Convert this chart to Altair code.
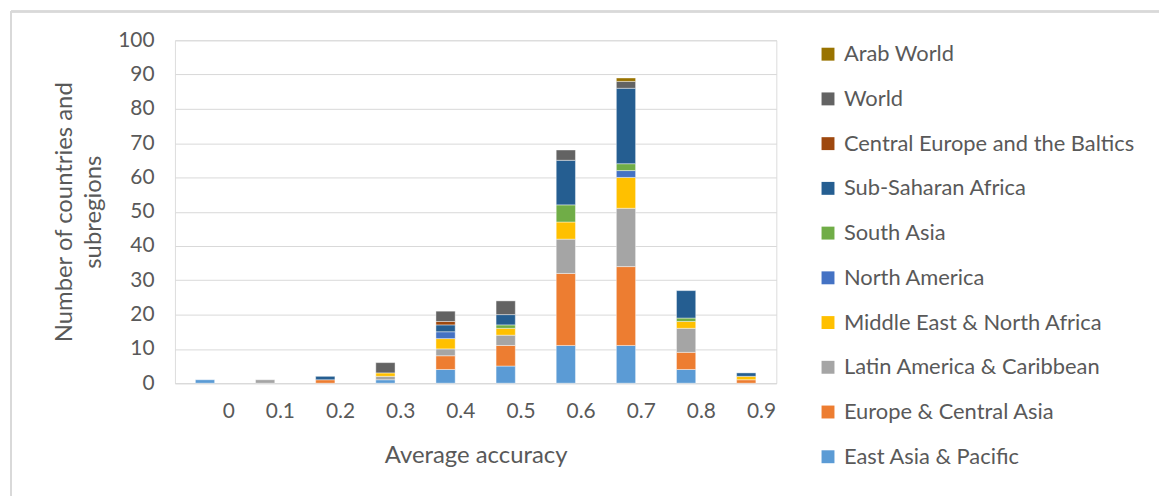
import altair as alt
import pandas as pd

# Accuracy bins (category labels on the x axis)
bins = ["0", "0.1", "0.2", "0.3", "0.4", "0.5", "0.6", "0.7", "0.8", "0.9"]

# Regions, bottom of the stack first
regions = [
    "East Asia & Pacific",
    "Europe & Central Asia",
    "Latin America & Caribbean",
    "Middle East & North Africa",
    "North America",
    "South Asia",
    "Sub-Saharan Africa",
    "Central Europe and the Baltics",
    "World",
    "Arab World",
]

colors = [
    "#5B9BD5", "#ED7D31", "#A5A5A5", "#FFC000", "#4472C4",
    "#70AD47", "#255E91", "#9E480E", "#636363", "#997300",
]

# Number of countries / subregions per bin, one list per region
east_asia_pacific = [1, 0, 0, 1, 4, 5, 11, 11, 4, 0]
europe_central_asia = [0, 0, 1, 0, 4, 6, 21, 23, 5, 1]
latin_america_caribbean = [0, 1, 0, 1, 2, 3, 10, 17, 7, 0]
middle_east_north_africa = [0, 0, 0, 1, 3, 2, 5, 9, 2, 1]
north_america = [0, 0, 0, 0, 2, 0, 0, 2, 0, 0]
south_asia = [0, 0, 0, 0, 0, 1, 5, 2, 1, 0]
sub_saharan_africa = [0, 0, 1, 0, 2, 3, 13, 22, 8, 1]
central_europe_baltics = [0, 0, 0, 0, 1, 0, 0, 0, 0, 0]
world = [0, 0, 0, 3, 3, 4, 3, 2, 0, 0]
arab_world = [0, 0, 0, 0, 0, 0, 0, 1, 0, 0]

series = [
    east_asia_pacific, europe_central_asia, latin_america_caribbean,
    middle_east_north_africa, north_america, south_asia, sub_saharan_africa,
    central_europe_baltics, world, arab_world,
]

rows = []
for idx, (name, vals) in enumerate(zip(regions, series)):
    for b, v in zip(bins, vals):
        if v > 0:
            rows.append({"bin": b, "region": name, "count": v, "idx": idx})
df = pd.DataFrame(rows)

FONT = "Lato"
TXT = "#595959"
GRID = "#d9d9d9"
W, H = 605, 345

bars = alt.Chart(df).mark_bar(stroke="#ffffff", strokeWidth=0.6, strokeOpacity=0.7).encode(
    x=alt.X(
        "bin:N",
        sort=bins,
        scale=alt.Scale(paddingInner=0.68, paddingOuter=0.34),
        axis=alt.Axis(
            title="Average accuracy",
            labelAngle=0,
            labelAlign="right",
            labelOffset=30,
            labelPadding=18,
            labelFontSize=21,
            labelColor=TXT,
            labelFont=FONT,
            ticks=False,
            domainColor=GRID,
            titleFontSize=24,
            titleFontWeight="normal",
            titleColor=TXT,
            titleFont=FONT,
            titlePadding=22,
        ),
    ),
    y=alt.Y(
        "count:Q",
        stack="zero",
        scale=alt.Scale(domain=[0, 100], nice=False),
        axis=alt.Axis(
            title=["Number of countries and", "subregions"],
            values=list(range(0, 101, 10)),
            labelFontSize=21,
            labelColor=TXT,
            labelFont=FONT,
            labelPadding=21,
            ticks=False,
            domain=False,
            gridColor=GRID,
            gridWidth=1,
            titleFontSize=24,
            titleFontWeight="normal",
            titleColor=TXT,
            titleFont=FONT,
            titleLineHeight=30,
            titlePadding=12,
        ),
    ),
    color=alt.Color(
        "region:N",
        scale=alt.Scale(domain=regions[::-1], range=colors[::-1]),
        legend=alt.Legend(
            title=None,
            orient="none",
            legendX=646,
            legendY=3,
            symbolType="square",
            symbolSize=169,
            symbolStrokeWidth=0,
            labelFontSize=22,
            labelColor=TXT,
            labelFont=FONT,
            labelOffset=5,
            rowPadding=23,
            padding=0,
            labelLimit=400,
        ),
    ),
    order=alt.Order("idx:Q", sort="ascending"),
)

# Thin frame around the whole chart (top and left edges)
frame_top = alt.Chart(df).mark_rule(color=GRID, strokeWidth=1.5).encode(
    x=alt.value(-165), x2=alt.value(990), y=alt.value(-29)
)
frame_left = alt.Chart(df).mark_rule(color=GRID, strokeWidth=1.5).encode(
    x=alt.value(-165), y=alt.value(-29), y2=alt.value(458)
)

chart = (
    alt.layer(frame_top, frame_left, bars)
    .properties(width=W, height=H, padding={"left": 10, "top": 9, "right": 0, "bottom": 0})
    .configure_view(stroke=None)
    .configure(background="#ffffff")
)

chart.save("out.html", embed_options={"renderer": "svg", "actions": False})
